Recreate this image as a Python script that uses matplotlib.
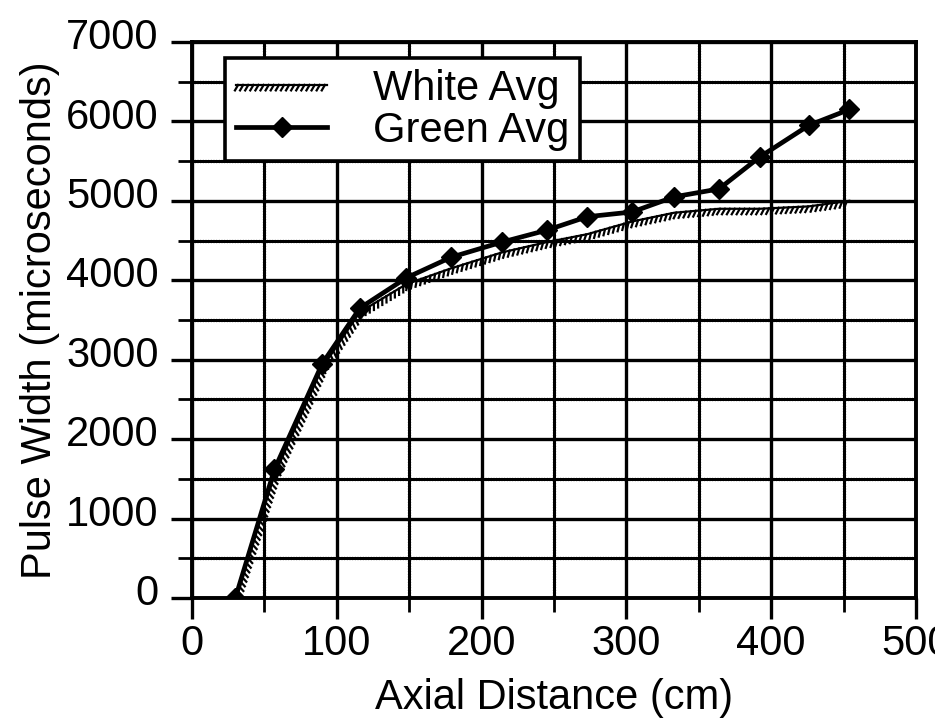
import numpy as np
import matplotlib
matplotlib.use("Agg")
import matplotlib.pyplot as plt
import matplotlib.patheffects as pe
from matplotlib.ticker import MultipleLocator
from matplotlib.transforms import ScaledTranslation

"""
Data (read off the scanned figure)
"""
distance = [30, 57, 90, 116, 148, 179, 214, 245, 273, 304, 333, 364, 392, 426, 454]
green_avg = [0, 1620, 2950, 3650, 4030, 4290, 4480, 4630, 4800, 4860, 5050, 5150, 5550, 5950, 6150]
white_avg = [0, 1550, 2900, 3600, 3950, 4150, 4350, 4480, 4580, 4740, 4850, 4900, 4900, 4930, 5000]

x_ticks = [0, 100, 200, 300, 400, 500]
y_ticks = [0, 1000, 2000, 3000, 4000, 5000, 6000, 7000]

"""
Figure
"""
plt.rcParams['font.family'] = ['Liberation Sans', 'DejaVu Sans']
fig = plt.figure(figsize=(9.35, 7.25), dpi=100)
ax = fig.add_axes([0.2053, 0.1752, 0.7743, 0.7669])

ax.set_xlim(0, 500)
ax.set_ylim(0, 7000)
ax.set_xticks(x_ticks)
ax.set_yticks(y_ticks)
ax.xaxis.set_minor_locator(MultipleLocator(50))
ax.yaxis.set_minor_locator(MultipleLocator(500))

# grid: solid majors, beaded (wavy looking) minors
ax.grid(which='major', color='black', linewidth=2.4)
ax.grid(which='minor', color='black', linewidth=2.4, linestyle=(0, (0.1, 0.7)))
ax.set_axisbelow(True)
for axis in (ax.xaxis, ax.yaxis):
    for t in axis.get_minor_ticks():
        t.gridline.set_dash_capstyle('round')

for s in ax.spines.values():
    s.set_linewidth(2.8)

ax.tick_params(which='major', direction='out', length=15, width=2.4, labelsize=30, pad=4)
ax.tick_params(which='minor', direction='out', length=10, width=2.0)
ax.tick_params(axis='y', which='major', pad=9)

# y labels sit a bit above their lines in the scan
off = ScaledTranslation(0, 6 / 72, fig.dpi_scale_trans)
for lab in ax.get_yticklabels():
    lab.set_transform(lab.get_transform() + off)

# white avg: hatched line
ax.plot(distance, white_avg, color='black', linewidth=1.6, label='White Avg',
        path_effects=[pe.withTickedStroke(angle=-120, spacing=3.5, length=1.3, linewidth=1.6)])
# green avg: heavy line with diamond markers
ax.plot(distance, green_avg, color='black', linewidth=3.4, marker='D', markersize=10,
        label='Green Avg')

ax.set_xlabel('Axial Distance (cm)', fontsize=30, labelpad=10)
ax.set_ylabel('Pulse Width (microseconds)', fontsize=30, labelpad=4)

leg = ax.legend(loc='upper left', bbox_to_anchor=(0.046, 0.971), fontsize=30,
                frameon=True, fancybox=False, edgecolor='black', framealpha=1,
                borderpad=0.25, labelspacing=0.05, handlelength=2.2, handletextpad=1.1,
                borderaxespad=0)
leg.get_frame().set_linewidth(2.6)

fig.savefig('out.png', dpi=100)
